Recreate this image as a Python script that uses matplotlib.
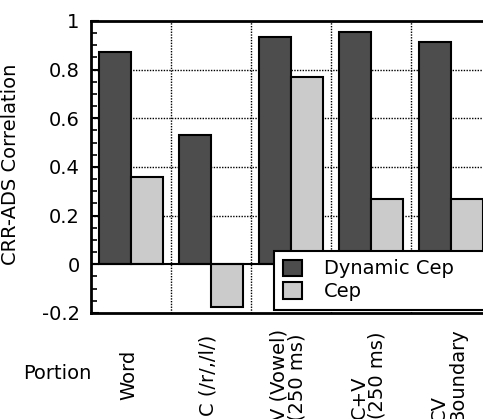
import numpy as np
import matplotlib.pyplot as plt
from matplotlib.ticker import MultipleLocator
import matplotlib.transforms as mtransforms

plt.rcParams['font.family'] = ['DejaVu Sans']

portions = ['Word', 'C (/r/,/l/)', 'V (Vowel)\n(250 ms)', 'C+V\n(250 ms)', 'CV\nBoundary']
dynamic_cep = [0.873, 0.533, 0.934, 0.955, 0.914]
cep = [0.36, -0.176, 0.77, 0.27, 0.27]

fig = plt.figure(figsize=(4.83, 4.19), dpi=100)
ax = fig.add_axes([0.188, 0.253, 0.828, 0.697])

x = np.arange(len(portions))
w = 0.4
ax.bar(x - w/2, dynamic_cep, w, color='#4d4d4d', edgecolor='black',
       linewidth=1.5, label='Dynamic Cep', zorder=3)
ax.bar(x + w/2, cep, w, color='#cbcbcb', edgecolor='black',
       linewidth=1.5, label='Cep', zorder=3)

ax.set_xlim(-0.5, len(portions) - 0.5)
ax.set_ylim(-0.2, 1.0)
ax.axhline(0, color='black', linewidth=1.5, zorder=4)

# dotted grid
for yy in [0.2, 0.4, 0.6, 0.8]:
    ax.axhline(yy, color='black', linestyle=(0, (1, 1)), linewidth=1, zorder=1)
for xx in x[:-1] + 0.5:
    ax.axvline(xx, color='black', linestyle=(0, (1, 1)), linewidth=1, zorder=1)

ax.yaxis.set_minor_locator(MultipleLocator(0.05))
ax.set_yticks([-0.2, 0, 0.2, 0.4, 0.6, 0.8, 1.0])
ax.set_yticklabels(['-0.2', '0', '0.2', '0.4', '0.6', '0.8', '1'])
ax.tick_params(axis='y', which='major', direction='in', length=6, width=1.5,
               labelsize=14, pad=8)
ax.tick_params(axis='y', which='minor', direction='in', length=4, width=1.2)
ax.set_xticks([])
for s in ax.spines.values():
    s.set_linewidth(2)

ax.set_ylabel('CRR-ADS Correlation', fontsize=14)
ax.yaxis.set_label_coords(-0.178, 0.51)

# rotated category labels (cut off at the bottom edge, as in the original)
trans = mtransforms.blended_transform_factory(ax.transData, fig.transFigure)
for xi, lab in zip(x, portions):
    ax.text(xi - 0.03, 1 - 375/419, lab, transform=trans, rotation=90, ha='center',
            va='center', multialignment='left', fontsize=14,
            linespacing=0.95, clip_on=False)
fig.text(23/483, 1 - 373/419, 'Portion', fontsize=14, va='center', ha='left')

leg = ax.legend(loc='lower left', bbox_to_anchor=(274/483, 1 - 310/419, 230/483, 0.1),
                bbox_transform=fig.transFigure, mode='expand', fontsize=14,
                frameon=True, fancybox=False, edgecolor='black', framealpha=1,
                handlelength=1.0, handleheight=0.9, handletextpad=1.1,
                borderpad=0.45, labelspacing=0.2, borderaxespad=0)
leg.get_frame().set_linewidth(1.5)
leg.set_zorder(5)

fig.savefig('out.png', dpi=100)
